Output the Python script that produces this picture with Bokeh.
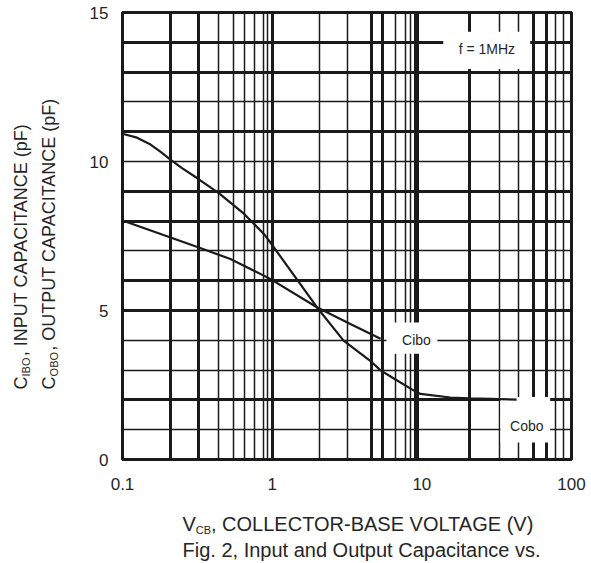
import math
from bokeh.plotting import figure
from bokeh.models import Grid, FixedTicker, Label, Range1d
from bokeh.layouts import row, column
from bokeh.core.properties import value
from bokeh.embed import file_html
from bokeh.resources import INLINE

# ---- data ----
cobo_v = [0.1, 0.125, 0.154, 0.18, 0.209, 0.25, 0.32, 0.44, 0.526, 0.65, 0.88, 0.97, 1.99, 3.0, 4.5, 5.3, 6.3, 8.8, 9.8, 15.5, 21, 43]
cobo_c = [10.93, 10.8, 10.57, 10.32, 10.06, 9.78, 9.42, 8.94, 8.62, 8.24, 7.57, 7.29, 5.11, 3.99, 3.32, 2.99, 2.76, 2.32, 2.2, 2.08, 2.05, 2.01]

cibo_v = [0.1, 0.32, 0.526, 0.88, 0.97, 1.99, 3.33, 5.3]
cibo_c = [8.02, 7.12, 6.73, 6.17, 6.06, 5.11, 4.55, 4.05]

x_ticks = [0.1, 1, 10, 100]
x_tick_labels = {0.1: "0.1", 1: "1", 10: "10", 100: "100"}
y_ticks = [0, 5, 10, 15]

# chart-paper grid lines as drawn in the reference
grid_x_heavy = [9.2, 100]
grid_x_thick = [0.21, 0.32, 1, 4.6, 5.5, 20.8, 55.5, 68]
grid_x_thin = [0.44, 0.55, 0.65, 0.76, 0.88, 0.93, 2.07, 3.21, 6.72, 7.75, 8.37, 32.9, 44, 78, 88]
grid_y_thick = [2, 5, 6, 8, 9, 11, 13, 14]
grid_y_thin = [1, 3, 4, 7, 10, 12]

# white boxes behind the in-plot labels
box_left = [13.9, 5.8, 33.5]
box_right = [53.0, 12.7, 72.0]
box_bottom = [13.1, 3.55, 0.57]
box_top = [14.35, 4.6, 2.1]

INK = "#1a1a1a"
TXT = "#262626"
FONT = "Liberation Sans"

LEFT_W = 60
MAIN_H = 500
TOTAL_W = 591
TOTAL_H = 563
B_TOP = 12
B_BOT = 41

p = figure(width=TOTAL_W - LEFT_W, height=MAIN_H, x_axis_type="log",
           x_range=Range1d(0.1, 100), y_range=Range1d(0, 15),
           output_backend="svg", toolbar_location=None,
           min_border_left=62, min_border_right=20,
           min_border_top=B_TOP, min_border_bottom=B_BOT)
p.background_fill_color = "white"
p.border_fill_color = "white"
p.outline_line_color = INK
p.outline_line_width = 3
p.xgrid.visible = False
p.ygrid.visible = False

for ax in (p.xaxis[0], p.yaxis[0]):
    ax.axis_line_color = None
    ax.major_tick_line_color = None
    ax.minor_tick_line_color = None
    ax.major_label_text_font = FONT
    ax.major_label_text_font_size = "17px"
    ax.major_label_text_color = TXT
p.xaxis.ticker = FixedTicker(ticks=x_ticks)
p.xaxis.major_label_overrides = x_tick_labels
p.xaxis.major_label_standoff = 12
p.yaxis.ticker = FixedTicker(ticks=y_ticks)
p.yaxis.major_label_standoff = 8


def add_grid(dim, ticks, width):
    g = Grid(dimension=dim, ticker=FixedTicker(ticks=ticks),
             grid_line_color=INK, grid_line_width=width)
    p.add_layout(g)


add_grid(0, grid_x_thin, 1.5)
add_grid(0, grid_x_thick, 3)
add_grid(0, grid_x_heavy, 5)
add_grid(1, grid_y_thin, 1.5)
add_grid(1, grid_y_thick, 3)

p.quad(left=box_left, right=box_right, bottom=box_bottom, top=box_top,
       fill_color="white", line_color=None)

p.line(cobo_v, cobo_c, line_color=INK, line_width=2.2)
p.line(cibo_v, cibo_c, line_color=INK, line_width=2.2)

# in-plot labels
for txt, x, y in [("f = 1MHz", 27.2, 13.78), ("Cibo", 9.2, 4.0), ("Cobo", 50.3, 1.14)]:
    p.add_layout(Label(x=x, y=y, text=txt, text_font=FONT, text_font_size="14px",
                       text_color=TXT, text_align="center", text_baseline="middle"))


def text_panel(w, h, y0, y1, top=0, bottom=0):
    f = figure(width=w, height=h, x_range=Range1d(0, w), y_range=Range1d(y0, y1),
               output_backend="svg", toolbar_location=None,
               x_axis_location=None, y_axis_location=None,
               min_border_left=0, min_border_right=0,
               min_border_top=top, min_border_bottom=bottom)
    f.xgrid.visible = False
    f.ygrid.visible = False
    f.outline_line_color = None
    f.background_fill_color = "white"
    f.border_fill_color = "white"
    return f


def put(f, x, y, text, size, align="left", angle=0.0):
    f.text(x=[x], y=[y], text=[text], text_font=value(FONT),
           text_font_size=value(size), text_color=TXT,
           text_align=align, text_baseline="middle", angle=angle)


# y-axis title panel: its frame lines up with the chart frame; y measured from panel bottom
ypan = text_panel(LEFT_W, MAIN_H, B_BOT, MAIN_H - B_TOP, B_TOP, B_BOT)
a = math.pi / 2
put(ypan, 20.6, MAIN_H - 382.5, "C", "18px", "center", a)
put(ypan, 25.0, MAIN_H - 366.5, "IBO", "11px", "center", a)
put(ypan, 20.6, MAIN_H - 239.5, ", INPUT CAPACITANCE (pF)", "18px", "center", a)
put(ypan, 48.6, MAIN_H - 382.5, "C", "18px", "center", a)
put(ypan, 53.0, MAIN_H - 363.7, "OBO", "11px", "center", a)
put(ypan, 48.6, MAIN_H - 224.0, ", OUTPUT CAPACITANCE (pF)", "18px", "center", a)

# x-axis title panel (left aligned, vertically centred on the caps)
BOT_H = TOTAL_H - MAIN_H
xpan = text_panel(TOTAL_W, BOT_H, 0, BOT_H)
put(xpan, 182, TOTAL_H - 523.7, "V", "20px")
put(xpan, 195.3, TOTAL_H - 529.8, "CB", "11px")
put(xpan, 210.5, TOTAL_H - 523.7, ", COLLECTOR-BASE VOLTAGE (V)", "20px")
put(xpan, 182, TOTAL_H - 549.5, "Fig. 2, Input and Output Capacitance vs.", "20px")

layout = column(row(ypan, p), xpan)

open("out.html", "w").write(file_html(layout, INLINE))
